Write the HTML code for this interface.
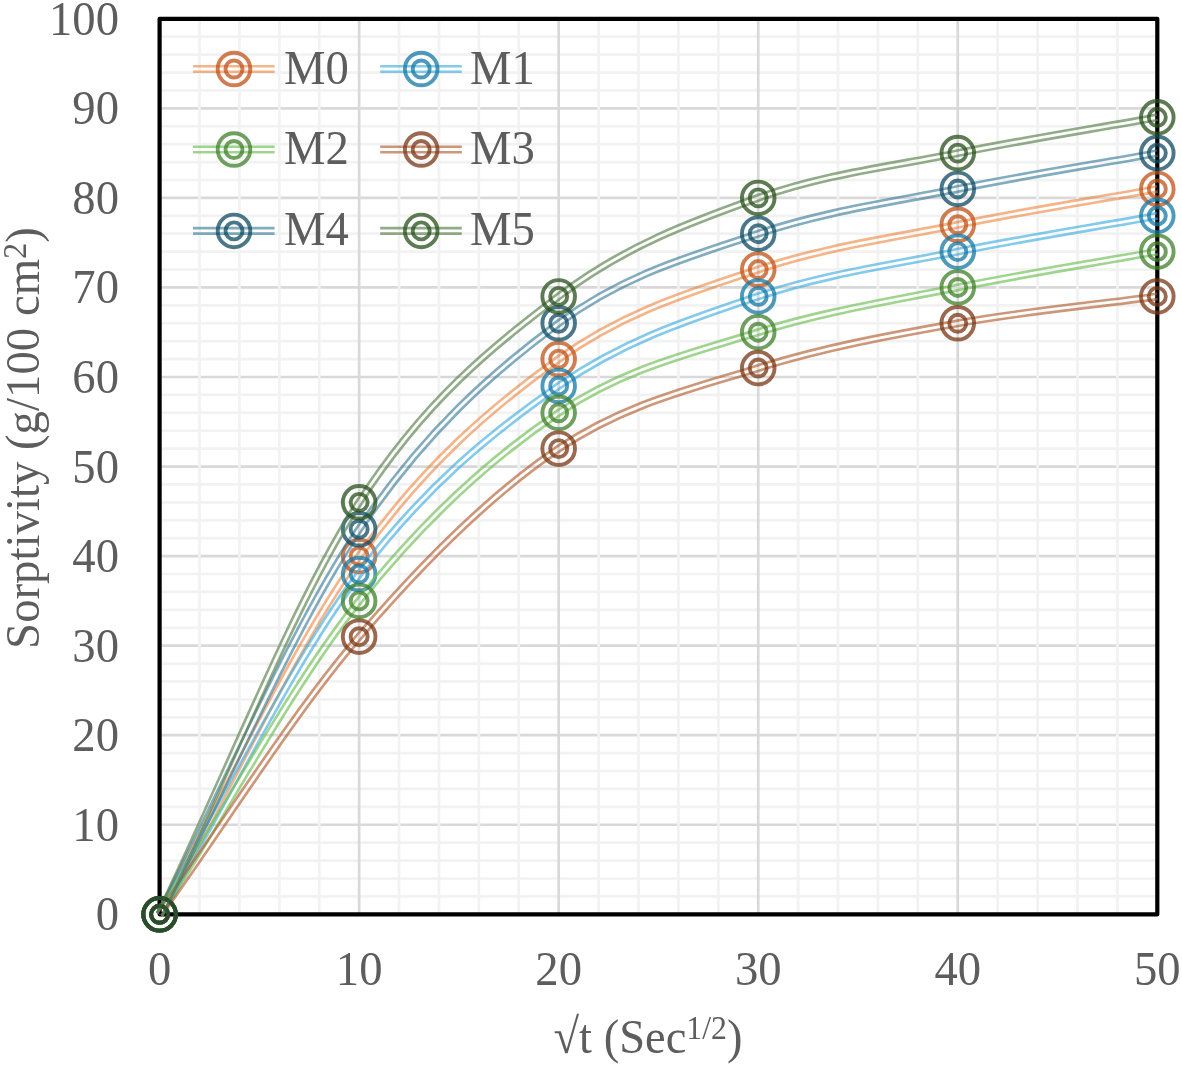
<!DOCTYPE html>
<html><head><meta charset="utf-8"><title>Sorptivity chart</title>
<style>html,body{margin:0;padding:0;background:#fff}svg{display:block;will-change:transform}text{font-family:"Liberation Serif","Times New Roman",serif;fill:#5d5d5d}</style>
</head><body>
<svg width="1182" height="1065" viewBox="0 0 1182 1065">
<rect width="1182" height="1065" fill="#fff"/>
<g stroke-width="2.7" fill="none">
<line x1="159.6" y1="824.75" x2="1157.3" y2="824.75" stroke="#d9d9d9"/>
<line x1="159.6" y1="735.20" x2="1157.3" y2="735.20" stroke="#d9d9d9"/>
<line x1="159.6" y1="645.65" x2="1157.3" y2="645.65" stroke="#d9d9d9"/>
<line x1="159.6" y1="556.10" x2="1157.3" y2="556.10" stroke="#d9d9d9"/>
<line x1="159.6" y1="466.55" x2="1157.3" y2="466.55" stroke="#d9d9d9"/>
<line x1="159.6" y1="377.00" x2="1157.3" y2="377.00" stroke="#d9d9d9"/>
<line x1="159.6" y1="287.45" x2="1157.3" y2="287.45" stroke="#d9d9d9"/>
<line x1="159.6" y1="197.90" x2="1157.3" y2="197.90" stroke="#d9d9d9"/>
<line x1="159.6" y1="108.35" x2="1157.3" y2="108.35" stroke="#d9d9d9"/>
<line x1="159.6" y1="896.39" x2="1157.3" y2="896.39" stroke="#f2f2f2"/>
<line x1="159.6" y1="878.48" x2="1157.3" y2="878.48" stroke="#f2f2f2"/>
<line x1="159.6" y1="860.57" x2="1157.3" y2="860.57" stroke="#f2f2f2"/>
<line x1="159.6" y1="842.66" x2="1157.3" y2="842.66" stroke="#f2f2f2"/>
<line x1="159.6" y1="806.84" x2="1157.3" y2="806.84" stroke="#f2f2f2"/>
<line x1="159.6" y1="788.93" x2="1157.3" y2="788.93" stroke="#f2f2f2"/>
<line x1="159.6" y1="771.02" x2="1157.3" y2="771.02" stroke="#f2f2f2"/>
<line x1="159.6" y1="753.11" x2="1157.3" y2="753.11" stroke="#f2f2f2"/>
<line x1="159.6" y1="717.29" x2="1157.3" y2="717.29" stroke="#f2f2f2"/>
<line x1="159.6" y1="699.38" x2="1157.3" y2="699.38" stroke="#f2f2f2"/>
<line x1="159.6" y1="681.47" x2="1157.3" y2="681.47" stroke="#f2f2f2"/>
<line x1="159.6" y1="663.56" x2="1157.3" y2="663.56" stroke="#f2f2f2"/>
<line x1="159.6" y1="627.74" x2="1157.3" y2="627.74" stroke="#f2f2f2"/>
<line x1="159.6" y1="609.83" x2="1157.3" y2="609.83" stroke="#f2f2f2"/>
<line x1="159.6" y1="591.92" x2="1157.3" y2="591.92" stroke="#f2f2f2"/>
<line x1="159.6" y1="574.01" x2="1157.3" y2="574.01" stroke="#f2f2f2"/>
<line x1="159.6" y1="538.19" x2="1157.3" y2="538.19" stroke="#f2f2f2"/>
<line x1="159.6" y1="520.28" x2="1157.3" y2="520.28" stroke="#f2f2f2"/>
<line x1="159.6" y1="502.37" x2="1157.3" y2="502.37" stroke="#f2f2f2"/>
<line x1="159.6" y1="484.46" x2="1157.3" y2="484.46" stroke="#f2f2f2"/>
<line x1="159.6" y1="448.64" x2="1157.3" y2="448.64" stroke="#f2f2f2"/>
<line x1="159.6" y1="430.73" x2="1157.3" y2="430.73" stroke="#f2f2f2"/>
<line x1="159.6" y1="412.82" x2="1157.3" y2="412.82" stroke="#f2f2f2"/>
<line x1="159.6" y1="394.91" x2="1157.3" y2="394.91" stroke="#f2f2f2"/>
<line x1="159.6" y1="359.09" x2="1157.3" y2="359.09" stroke="#f2f2f2"/>
<line x1="159.6" y1="341.18" x2="1157.3" y2="341.18" stroke="#f2f2f2"/>
<line x1="159.6" y1="323.27" x2="1157.3" y2="323.27" stroke="#f2f2f2"/>
<line x1="159.6" y1="305.36" x2="1157.3" y2="305.36" stroke="#f2f2f2"/>
<line x1="159.6" y1="269.54" x2="1157.3" y2="269.54" stroke="#f2f2f2"/>
<line x1="159.6" y1="251.63" x2="1157.3" y2="251.63" stroke="#f2f2f2"/>
<line x1="159.6" y1="233.72" x2="1157.3" y2="233.72" stroke="#f2f2f2"/>
<line x1="159.6" y1="215.81" x2="1157.3" y2="215.81" stroke="#f2f2f2"/>
<line x1="159.6" y1="179.99" x2="1157.3" y2="179.99" stroke="#f2f2f2"/>
<line x1="159.6" y1="162.08" x2="1157.3" y2="162.08" stroke="#f2f2f2"/>
<line x1="159.6" y1="144.17" x2="1157.3" y2="144.17" stroke="#f2f2f2"/>
<line x1="159.6" y1="126.26" x2="1157.3" y2="126.26" stroke="#f2f2f2"/>
<line x1="159.6" y1="90.44" x2="1157.3" y2="90.44" stroke="#f2f2f2"/>
<line x1="159.6" y1="72.53" x2="1157.3" y2="72.53" stroke="#f2f2f2"/>
<line x1="159.6" y1="54.62" x2="1157.3" y2="54.62" stroke="#f2f2f2"/>
<line x1="159.6" y1="36.71" x2="1157.3" y2="36.71" stroke="#f2f2f2"/>
<line x1="359.14" y1="18.8" x2="359.14" y2="914.3" stroke="#d9d9d9"/>
<line x1="558.68" y1="18.8" x2="558.68" y2="914.3" stroke="#d9d9d9"/>
<line x1="758.22" y1="18.8" x2="758.22" y2="914.3" stroke="#d9d9d9"/>
<line x1="957.76" y1="18.8" x2="957.76" y2="914.3" stroke="#d9d9d9"/>
<line x1="199.51" y1="18.8" x2="199.51" y2="914.3" stroke="#f2f2f2"/>
<line x1="239.42" y1="18.8" x2="239.42" y2="914.3" stroke="#f2f2f2"/>
<line x1="279.32" y1="18.8" x2="279.32" y2="914.3" stroke="#f2f2f2"/>
<line x1="319.23" y1="18.8" x2="319.23" y2="914.3" stroke="#f2f2f2"/>
<line x1="399.05" y1="18.8" x2="399.05" y2="914.3" stroke="#f2f2f2"/>
<line x1="438.96" y1="18.8" x2="438.96" y2="914.3" stroke="#f2f2f2"/>
<line x1="478.86" y1="18.8" x2="478.86" y2="914.3" stroke="#f2f2f2"/>
<line x1="518.77" y1="18.8" x2="518.77" y2="914.3" stroke="#f2f2f2"/>
<line x1="598.59" y1="18.8" x2="598.59" y2="914.3" stroke="#f2f2f2"/>
<line x1="638.50" y1="18.8" x2="638.50" y2="914.3" stroke="#f2f2f2"/>
<line x1="678.40" y1="18.8" x2="678.40" y2="914.3" stroke="#f2f2f2"/>
<line x1="718.31" y1="18.8" x2="718.31" y2="914.3" stroke="#f2f2f2"/>
<line x1="798.13" y1="18.8" x2="798.13" y2="914.3" stroke="#f2f2f2"/>
<line x1="838.04" y1="18.8" x2="838.04" y2="914.3" stroke="#f2f2f2"/>
<line x1="877.94" y1="18.8" x2="877.94" y2="914.3" stroke="#f2f2f2"/>
<line x1="917.85" y1="18.8" x2="917.85" y2="914.3" stroke="#f2f2f2"/>
<line x1="997.67" y1="18.8" x2="997.67" y2="914.3" stroke="#f2f2f2"/>
<line x1="1037.58" y1="18.8" x2="1037.58" y2="914.3" stroke="#f2f2f2"/>
<line x1="1077.48" y1="18.8" x2="1077.48" y2="914.3" stroke="#f2f2f2"/>
<line x1="1117.39" y1="18.8" x2="1117.39" y2="914.3" stroke="#f2f2f2"/>
</g>
<rect x="159.6" y="18.8" width="997.70" height="895.50" fill="none" stroke="#000" stroke-width="4.2" stroke-linejoin="round"/>
<defs>
<mask id="k0" maskUnits="userSpaceOnUse" x="0" y="0" width="1182" height="1065"><path d="M159.60 914.30C226.11 794.90 292.63 648.63 359.14 556.10C425.65 463.56 492.17 406.85 558.68 359.09C625.19 311.33 691.71 291.93 758.22 269.54C824.73 247.15 891.25 238.20 957.76 224.76C1024.27 211.33 1090.79 200.88 1157.30 188.94" fill="none" stroke="#fff" stroke-width="8.1"/><path d="M159.60 914.30C226.11 794.90 292.63 648.63 359.14 556.10C425.65 463.56 492.17 406.85 558.68 359.09C625.19 311.33 691.71 291.93 758.22 269.54C824.73 247.15 891.25 238.20 957.76 224.76C1024.27 211.33 1090.79 200.88 1157.30 188.94" fill="none" stroke="#000" stroke-width="2.8"/></mask>
<mask id="k1" maskUnits="userSpaceOnUse" x="0" y="0" width="1182" height="1065"><path d="M159.60 914.30C226.11 800.87 292.63 662.07 359.14 574.01C425.65 485.95 492.17 432.22 558.68 385.95C625.19 339.69 691.71 318.79 758.22 296.40C824.73 274.02 891.25 265.06 957.76 251.63C1024.27 238.20 1090.79 227.75 1157.30 215.81" fill="none" stroke="#fff" stroke-width="8.1"/><path d="M159.60 914.30C226.11 800.87 292.63 662.07 359.14 574.01C425.65 485.95 492.17 432.22 558.68 385.95C625.19 339.69 691.71 318.79 758.22 296.40C824.73 274.02 891.25 265.06 957.76 251.63C1024.27 238.20 1090.79 227.75 1157.30 215.81" fill="none" stroke="#000" stroke-width="2.8"/></mask>
<mask id="k2" maskUnits="userSpaceOnUse" x="0" y="0" width="1182" height="1065"><path d="M159.60 914.30C226.11 809.82 292.63 684.46 359.14 600.88C425.65 517.29 492.17 457.59 558.68 412.82C625.19 368.04 691.71 353.12 758.22 332.22C824.73 311.33 891.25 300.88 957.76 287.45C1024.27 274.02 1090.79 263.57 1157.30 251.63" fill="none" stroke="#fff" stroke-width="8.1"/><path d="M159.60 914.30C226.11 809.82 292.63 684.46 359.14 600.88C425.65 517.29 492.17 457.59 558.68 412.82C625.19 368.04 691.71 353.12 758.22 332.22C824.73 311.33 891.25 300.88 957.76 287.45C1024.27 274.02 1090.79 263.57 1157.30 251.63" fill="none" stroke="#000" stroke-width="2.8"/></mask>
<mask id="k3" maskUnits="userSpaceOnUse" x="0" y="0" width="1182" height="1065"><path d="M159.60 914.30C226.11 821.76 292.63 714.30 359.14 636.69C425.65 559.08 492.17 493.41 558.68 448.64C625.19 403.86 691.71 388.94 758.22 368.04C824.73 347.15 891.25 335.21 957.76 323.27C1024.27 311.33 1090.79 305.36 1157.30 296.40" fill="none" stroke="#fff" stroke-width="8.1"/><path d="M159.60 914.30C226.11 821.76 292.63 714.30 359.14 636.69C425.65 559.08 492.17 493.41 558.68 448.64C625.19 403.86 691.71 388.94 758.22 368.04C824.73 347.15 891.25 335.21 957.76 323.27C1024.27 311.33 1090.79 305.36 1157.30 296.40" fill="none" stroke="#000" stroke-width="2.8"/></mask>
<mask id="k4" maskUnits="userSpaceOnUse" x="0" y="0" width="1182" height="1065"><path d="M159.60 914.30C226.11 785.94 292.63 627.74 359.14 529.23C425.65 430.73 492.17 372.52 558.68 323.27C625.19 274.02 691.71 256.11 758.22 233.72C824.73 211.33 891.25 202.38 957.76 188.94C1024.27 175.51 1090.79 165.06 1157.30 153.12" fill="none" stroke="#fff" stroke-width="8.1"/><path d="M159.60 914.30C226.11 785.94 292.63 627.74 359.14 529.23C425.65 430.73 492.17 372.52 558.68 323.27C625.19 274.02 691.71 256.11 758.22 233.72C824.73 211.33 891.25 202.38 957.76 188.94C1024.27 175.51 1090.79 165.06 1157.30 153.12" fill="none" stroke="#000" stroke-width="2.8"/></mask>
<mask id="k5" maskUnits="userSpaceOnUse" x="0" y="0" width="1182" height="1065"><path d="M159.60 914.30C226.11 776.99 292.63 605.35 359.14 502.37C425.65 399.39 492.17 347.15 558.68 296.40C625.19 245.66 691.71 221.78 758.22 197.90C824.73 174.02 891.25 166.56 957.76 153.12C1024.27 139.69 1090.79 129.24 1157.30 117.30" fill="none" stroke="#fff" stroke-width="8.1"/><path d="M159.60 914.30C226.11 776.99 292.63 605.35 359.14 502.37C425.65 399.39 492.17 347.15 558.68 296.40C625.19 245.66 691.71 221.78 758.22 197.90C824.73 174.02 891.25 166.56 957.76 153.12C1024.27 139.69 1090.79 129.24 1157.30 117.30" fill="none" stroke="#000" stroke-width="2.8"/></mask>
</defs>
<rect x="0" y="0" width="1182" height="1065" fill="#ed7d31" fill-opacity="0.57" mask="url(#k0)"/>
<g fill="none" stroke="#c05218" stroke-opacity="0.75" stroke-width="3.9"><circle cx="159.60" cy="914.30" r="16.3"/><circle cx="159.60" cy="914.30" r="8.5"/></g>
<g fill="none" stroke="#c05218" stroke-opacity="0.75" stroke-width="3.9"><circle cx="359.14" cy="556.10" r="16.3"/><circle cx="359.14" cy="556.10" r="8.5"/></g>
<g fill="none" stroke="#c05218" stroke-opacity="0.75" stroke-width="3.9"><circle cx="558.68" cy="359.09" r="16.3"/><circle cx="558.68" cy="359.09" r="8.5"/></g>
<g fill="none" stroke="#c05218" stroke-opacity="0.75" stroke-width="3.9"><circle cx="758.22" cy="269.54" r="16.3"/><circle cx="758.22" cy="269.54" r="8.5"/></g>
<g fill="none" stroke="#c05218" stroke-opacity="0.75" stroke-width="3.9"><circle cx="957.76" cy="224.76" r="16.3"/><circle cx="957.76" cy="224.76" r="8.5"/></g>
<g fill="none" stroke="#c05218" stroke-opacity="0.75" stroke-width="3.9"><circle cx="1157.30" cy="188.94" r="16.3"/><circle cx="1157.30" cy="188.94" r="8.5"/></g>
<rect x="0" y="0" width="1182" height="1065" fill="#38aade" fill-opacity="0.62" mask="url(#k1)"/>
<g fill="none" stroke="#1478a4" stroke-opacity="0.75" stroke-width="3.9"><circle cx="159.60" cy="914.30" r="16.3"/><circle cx="159.60" cy="914.30" r="8.5"/></g>
<g fill="none" stroke="#1478a4" stroke-opacity="0.75" stroke-width="3.9"><circle cx="359.14" cy="574.01" r="16.3"/><circle cx="359.14" cy="574.01" r="8.5"/></g>
<g fill="none" stroke="#1478a4" stroke-opacity="0.75" stroke-width="3.9"><circle cx="558.68" cy="385.95" r="16.3"/><circle cx="558.68" cy="385.95" r="8.5"/></g>
<g fill="none" stroke="#1478a4" stroke-opacity="0.75" stroke-width="3.9"><circle cx="758.22" cy="296.40" r="16.3"/><circle cx="758.22" cy="296.40" r="8.5"/></g>
<g fill="none" stroke="#1478a4" stroke-opacity="0.75" stroke-width="3.9"><circle cx="957.76" cy="251.63" r="16.3"/><circle cx="957.76" cy="251.63" r="8.5"/></g>
<g fill="none" stroke="#1478a4" stroke-opacity="0.75" stroke-width="3.9"><circle cx="1157.30" cy="215.81" r="16.3"/><circle cx="1157.30" cy="215.81" r="8.5"/></g>
<rect x="0" y="0" width="1182" height="1065" fill="#6fbf55" fill-opacity="0.66" mask="url(#k2)"/>
<g fill="none" stroke="#3f802a" stroke-opacity="0.75" stroke-width="3.9"><circle cx="159.60" cy="914.30" r="16.3"/><circle cx="159.60" cy="914.30" r="8.5"/></g>
<g fill="none" stroke="#3f802a" stroke-opacity="0.75" stroke-width="3.9"><circle cx="359.14" cy="600.88" r="16.3"/><circle cx="359.14" cy="600.88" r="8.5"/></g>
<g fill="none" stroke="#3f802a" stroke-opacity="0.75" stroke-width="3.9"><circle cx="558.68" cy="412.82" r="16.3"/><circle cx="558.68" cy="412.82" r="8.5"/></g>
<g fill="none" stroke="#3f802a" stroke-opacity="0.75" stroke-width="3.9"><circle cx="758.22" cy="332.22" r="16.3"/><circle cx="758.22" cy="332.22" r="8.5"/></g>
<g fill="none" stroke="#3f802a" stroke-opacity="0.75" stroke-width="3.9"><circle cx="957.76" cy="287.45" r="16.3"/><circle cx="957.76" cy="287.45" r="8.5"/></g>
<g fill="none" stroke="#3f802a" stroke-opacity="0.75" stroke-width="3.9"><circle cx="1157.30" cy="251.63" r="16.3"/><circle cx="1157.30" cy="251.63" r="8.5"/></g>
<rect x="0" y="0" width="1182" height="1065" fill="#b05a2c" fill-opacity="0.63" mask="url(#k3)"/>
<g fill="none" stroke="#783714" stroke-opacity="0.75" stroke-width="3.9"><circle cx="159.60" cy="914.30" r="16.3"/><circle cx="159.60" cy="914.30" r="8.5"/></g>
<g fill="none" stroke="#783714" stroke-opacity="0.75" stroke-width="3.9"><circle cx="359.14" cy="636.69" r="16.3"/><circle cx="359.14" cy="636.69" r="8.5"/></g>
<g fill="none" stroke="#783714" stroke-opacity="0.75" stroke-width="3.9"><circle cx="558.68" cy="448.64" r="16.3"/><circle cx="558.68" cy="448.64" r="8.5"/></g>
<g fill="none" stroke="#783714" stroke-opacity="0.75" stroke-width="3.9"><circle cx="758.22" cy="368.04" r="16.3"/><circle cx="758.22" cy="368.04" r="8.5"/></g>
<g fill="none" stroke="#783714" stroke-opacity="0.75" stroke-width="3.9"><circle cx="957.76" cy="323.27" r="16.3"/><circle cx="957.76" cy="323.27" r="8.5"/></g>
<g fill="none" stroke="#783714" stroke-opacity="0.75" stroke-width="3.9"><circle cx="1157.30" cy="296.40" r="16.3"/><circle cx="1157.30" cy="296.40" r="8.5"/></g>
<rect x="0" y="0" width="1182" height="1065" fill="#2e7594" fill-opacity="0.6" mask="url(#k4)"/>
<g fill="none" stroke="#0e4b63" stroke-opacity="0.75" stroke-width="3.9"><circle cx="159.60" cy="914.30" r="16.3"/><circle cx="159.60" cy="914.30" r="8.5"/></g>
<g fill="none" stroke="#0e4b63" stroke-opacity="0.75" stroke-width="3.9"><circle cx="359.14" cy="529.23" r="16.3"/><circle cx="359.14" cy="529.23" r="8.5"/></g>
<g fill="none" stroke="#0e4b63" stroke-opacity="0.75" stroke-width="3.9"><circle cx="558.68" cy="323.27" r="16.3"/><circle cx="558.68" cy="323.27" r="8.5"/></g>
<g fill="none" stroke="#0e4b63" stroke-opacity="0.75" stroke-width="3.9"><circle cx="758.22" cy="233.72" r="16.3"/><circle cx="758.22" cy="233.72" r="8.5"/></g>
<g fill="none" stroke="#0e4b63" stroke-opacity="0.75" stroke-width="3.9"><circle cx="957.76" cy="188.94" r="16.3"/><circle cx="957.76" cy="188.94" r="8.5"/></g>
<g fill="none" stroke="#0e4b63" stroke-opacity="0.75" stroke-width="3.9"><circle cx="1157.30" cy="153.12" r="16.3"/><circle cx="1157.30" cy="153.12" r="8.5"/></g>
<rect x="0" y="0" width="1182" height="1065" fill="#587f4a" fill-opacity="0.65" mask="url(#k5)"/>
<g fill="none" stroke="#28501b" stroke-opacity="0.75" stroke-width="3.9"><circle cx="159.60" cy="914.30" r="16.3"/><circle cx="159.60" cy="914.30" r="8.5"/></g>
<g fill="none" stroke="#28501b" stroke-opacity="0.75" stroke-width="3.9"><circle cx="359.14" cy="502.37" r="16.3"/><circle cx="359.14" cy="502.37" r="8.5"/></g>
<g fill="none" stroke="#28501b" stroke-opacity="0.75" stroke-width="3.9"><circle cx="558.68" cy="296.40" r="16.3"/><circle cx="558.68" cy="296.40" r="8.5"/></g>
<g fill="none" stroke="#28501b" stroke-opacity="0.75" stroke-width="3.9"><circle cx="758.22" cy="197.90" r="16.3"/><circle cx="758.22" cy="197.90" r="8.5"/></g>
<g fill="none" stroke="#28501b" stroke-opacity="0.75" stroke-width="3.9"><circle cx="957.76" cy="153.12" r="16.3"/><circle cx="957.76" cy="153.12" r="8.5"/></g>
<g fill="none" stroke="#28501b" stroke-opacity="0.75" stroke-width="3.9"><circle cx="1157.30" cy="117.30" r="16.3"/><circle cx="1157.30" cy="117.30" r="8.5"/></g>
<line x1="193.00" y1="66.25" x2="274.60" y2="66.25" stroke="#ed7d31" stroke-opacity="0.57" stroke-width="2.6"/>
<line x1="193.00" y1="71.75" x2="274.60" y2="71.75" stroke="#ed7d31" stroke-opacity="0.57" stroke-width="2.6"/>
<g fill="none" stroke="#c05218" stroke-opacity="0.75" stroke-width="3.9"><circle cx="234.00" cy="69.00" r="16.3"/><circle cx="234.00" cy="69.00" r="8.5"/></g>
<text transform="translate(284.00 83.50) scale(1 1.035)" font-size="46.67">M0</text>
<line x1="380.20" y1="66.25" x2="461.80" y2="66.25" stroke="#38aade" stroke-opacity="0.62" stroke-width="2.6"/>
<line x1="380.20" y1="71.75" x2="461.80" y2="71.75" stroke="#38aade" stroke-opacity="0.62" stroke-width="2.6"/>
<g fill="none" stroke="#1478a4" stroke-opacity="0.75" stroke-width="3.9"><circle cx="421.20" cy="69.00" r="16.3"/><circle cx="421.20" cy="69.00" r="8.5"/></g>
<text transform="translate(470.00 83.50) scale(1 1.035)" font-size="46.67">M1</text>
<line x1="193.00" y1="146.75" x2="274.60" y2="146.75" stroke="#6fbf55" stroke-opacity="0.66" stroke-width="2.6"/>
<line x1="193.00" y1="152.25" x2="274.60" y2="152.25" stroke="#6fbf55" stroke-opacity="0.66" stroke-width="2.6"/>
<g fill="none" stroke="#3f802a" stroke-opacity="0.75" stroke-width="3.9"><circle cx="234.00" cy="149.50" r="16.3"/><circle cx="234.00" cy="149.50" r="8.5"/></g>
<text transform="translate(284.00 164.00) scale(1 1.035)" font-size="46.67">M2</text>
<line x1="380.20" y1="146.75" x2="461.80" y2="146.75" stroke="#b05a2c" stroke-opacity="0.63" stroke-width="2.6"/>
<line x1="380.20" y1="152.25" x2="461.80" y2="152.25" stroke="#b05a2c" stroke-opacity="0.63" stroke-width="2.6"/>
<g fill="none" stroke="#783714" stroke-opacity="0.75" stroke-width="3.9"><circle cx="421.20" cy="149.50" r="16.3"/><circle cx="421.20" cy="149.50" r="8.5"/></g>
<text transform="translate(470.00 164.00) scale(1 1.035)" font-size="46.67">M3</text>
<line x1="193.00" y1="228.15" x2="274.60" y2="228.15" stroke="#2e7594" stroke-opacity="0.6" stroke-width="2.6"/>
<line x1="193.00" y1="233.65" x2="274.60" y2="233.65" stroke="#2e7594" stroke-opacity="0.6" stroke-width="2.6"/>
<g fill="none" stroke="#0e4b63" stroke-opacity="0.75" stroke-width="3.9"><circle cx="234.00" cy="230.90" r="16.3"/><circle cx="234.00" cy="230.90" r="8.5"/></g>
<text transform="translate(284.00 245.40) scale(1 1.035)" font-size="46.67">M4</text>
<line x1="380.20" y1="228.15" x2="461.80" y2="228.15" stroke="#587f4a" stroke-opacity="0.65" stroke-width="2.6"/>
<line x1="380.20" y1="233.65" x2="461.80" y2="233.65" stroke="#587f4a" stroke-opacity="0.65" stroke-width="2.6"/>
<g fill="none" stroke="#28501b" stroke-opacity="0.75" stroke-width="3.9"><circle cx="421.20" cy="230.90" r="16.3"/><circle cx="421.20" cy="230.90" r="8.5"/></g>
<text transform="translate(470.00 245.40) scale(1 1.035)" font-size="46.67">M5</text>
<text transform="translate(119 930.30) scale(1 1.035)" font-size="46.67" text-anchor="end">0</text>
<text transform="translate(119 840.75) scale(1 1.035)" font-size="46.67" text-anchor="end">10</text>
<text transform="translate(119 751.20) scale(1 1.035)" font-size="46.67" text-anchor="end">20</text>
<text transform="translate(119 661.65) scale(1 1.035)" font-size="46.67" text-anchor="end">30</text>
<text transform="translate(119 572.10) scale(1 1.035)" font-size="46.67" text-anchor="end">40</text>
<text transform="translate(119 482.55) scale(1 1.035)" font-size="46.67" text-anchor="end">50</text>
<text transform="translate(119 393.00) scale(1 1.035)" font-size="46.67" text-anchor="end">60</text>
<text transform="translate(119 303.45) scale(1 1.035)" font-size="46.67" text-anchor="end">70</text>
<text transform="translate(119 213.90) scale(1 1.035)" font-size="46.67" text-anchor="end">80</text>
<text transform="translate(119 124.35) scale(1 1.035)" font-size="46.67" text-anchor="end">90</text>
<text transform="translate(119 34.80) scale(1 1.035)" font-size="46.67" text-anchor="end">100</text>
<text transform="translate(159.60 984.5) scale(1 1.035)" font-size="46.67" text-anchor="middle">0</text>
<text transform="translate(359.14 984.5) scale(1 1.035)" font-size="46.67" text-anchor="middle">10</text>
<text transform="translate(558.68 984.5) scale(1 1.035)" font-size="46.67" text-anchor="middle">20</text>
<text transform="translate(758.22 984.5) scale(1 1.035)" font-size="46.67" text-anchor="middle">30</text>
<text transform="translate(957.76 984.5) scale(1 1.035)" font-size="46.67" text-anchor="middle">40</text>
<text transform="translate(1157.30 984.5) scale(1 1.035)" font-size="46.67" text-anchor="middle">50</text>
<text transform="translate(648 1053.2) scale(0.978 1.035)" font-size="47.6" text-anchor="middle">√t (Sec<tspan font-size="32.5" dy="-13.9">1/2</tspan><tspan dy="13.9">)</tspan></text>
<text transform="translate(38.8 438) rotate(-90) scale(1 1.02)" font-size="46.8" text-anchor="middle">Sorptivity (g/100 cm<tspan font-size="32.5" dy="-12.2">2</tspan><tspan dy="12.2">)</tspan></text>
</svg></body></html>
